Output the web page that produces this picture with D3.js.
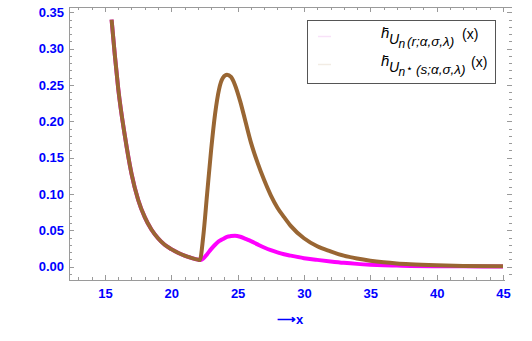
<!DOCTYPE html>
<html>
<head>
<meta charset="utf-8">
<script src="https://cdn.jsdelivr.net/npm/d3@7"></script>
<style>
	body { margin: 0; background: #fff; }
	svg { display: block; }
	.ticklab { font-family: "Liberation Sans", Arial, sans-serif; font-weight: bold; font-size: 13px; fill: #0000ff; }
	.leg { font-family: "Liberation Sans", Arial, sans-serif; fill: #000; }
</style>
</head>
<body>
<svg id="chart" width="532" height="341"></svg>
<script>
"use strict";

// values
var xs = [15.5, 15.75, 16, 16.5, 17, 17.5, 18, 18.5, 19, 19.5, 20, 20.5, 21, 21.5, 22, 22.15,
	22.4, 22.7, 23.0, 23.3, 23.6, 23.9, 24.2, 24.5, 24.8, 25.2, 25.6, 26.0, 26.5, 27, 27.5,
	28, 28.5, 29, 30, 31, 32, 33, 34, 35, 36, 37, 38, 40, 42, 45];

// h_Un(r;a,s,l)(x)  (brown)
var hUn = [0.340, 0.290, 0.245, 0.180, 0.128, 0.092, 0.068, 0.051, 0.039, 0.030, 0.024, 0.019, 0.015, 0.012, 0.0095, 0.009,
	0.040, 0.100, 0.160, 0.210, 0.244, 0.260, 0.264, 0.261, 0.250, 0.227, 0.199, 0.171, 0.143, 0.119, 0.098,
	0.081, 0.068, 0.056, 0.039, 0.028, 0.021, 0.015, 0.011, 0.008, 0.0058, 0.0042, 0.0031, 0.0017, 0.0009, 0.0005];

// h_Un*(s;a,s,l)(x)  (magenta)
var hUnStar = [0.340, 0.290, 0.245, 0.180, 0.128, 0.092, 0.068, 0.051, 0.039, 0.030, 0.024, 0.019, 0.015, 0.012, 0.0095, 0.009,
	0.011, 0.017, 0.024, 0.030, 0.035, 0.038, 0.041, 0.042, 0.0425, 0.041, 0.038, 0.035, 0.0305, 0.0262, 0.0225,
	0.0195, 0.017, 0.015, 0.0115, 0.0092, 0.0071, 0.0052, 0.0037, 0.0026, 0.0018, 0.0013, 0.0009, 0.0005, 0.0003, 0.0002];

var xMajor = [15, 20, 25, 30, 35, 40, 45];
var yMajor = [0, 0.05, 0.10, 0.15, 0.20, 0.25, 0.30, 0.35];
var xMinor = d3.range(13, 46);
var yMinor = d3.range(-1, 36).map(d=>d / 100);

var frameCol = "#9a9a9a";
var svg = d3.select("#chart");

var m = {left: 69, right: 512, top: 7, bottom: 280};
var xscale = d3.scaleLinear().domain([12.29, 45.68]).range([m.left, m.right]);
var yscale = d3.scaleLinear().domain([-0.0185, 0.3573]).range([m.bottom, m.top]);

// frame lines (right side has ticks only, as in the picture)
var frame = svg.append("g").attr("stroke", frameCol).attr("stroke-width", 1).attr("fill", "none");
frame.append("line").attr("x1", m.left + 0.5).attr("x2", m.left + 0.5).attr("y1", m.top).attr("y2", m.bottom + 0.5);
frame.append("line").attr("x1", m.left).attr("x2", 505).attr("y1", m.bottom + 0.5).attr("y2", m.bottom + 0.5);
frame.append("line").attr("x1", m.left).attr("x2", m.right).attr("y1", m.top + 0.5).attr("y2", m.top + 0.5);

function isMajor(v, step) {
	return Math.abs(v / step - Math.round(v / step)) < 1e-6;
}

// ticks on all four sides, pointing inward
xMinor.forEach(v=>{
	let len = isMajor(v, 5) ? 5 : 3;
	let px = Math.round(xscale(v)) + 0.5;
	frame.append("line").attr("x1", px).attr("x2", px).attr("y1", m.bottom).attr("y2", m.bottom - len);
	frame.append("line").attr("x1", px).attr("x2", px).attr("y1", m.top).attr("y2", m.top + len);
});
yMinor.forEach(v=>{
	let len = isMajor(v, 0.05) ? 5 : 3;
	let py = Math.round(yscale(v)) + 0.5;
	frame.append("line").attr("x1", m.left).attr("x2", m.left + len).attr("y1", py).attr("y2", py);
	frame.append("line").attr("x1", m.right).attr("x2", m.right - len).attr("y1", py).attr("y2", py);
});

// tick labels through d3 axes
var xaxis = d3.axisBottom(xscale).tickValues(xMajor).tickSize(0).tickPadding(9).tickFormat(d3.format("d"));
var yaxis = d3.axisLeft(yscale).tickValues(yMajor).tickSize(0).tickPadding(5).tickFormat(d3.format(".2f"));

var gx = svg.append("g").attr("transform", `translate(0,${m.bottom})`).call(xaxis);
var gy = svg.append("g").attr("transform", `translate(${m.left},0)`).call(yaxis);
[gx, gy].forEach(g=>{
	g.select(".domain").remove();
	g.attr("font-family", null).attr("font-size", null);
	g.selectAll("text").attr("class", "ticklab").attr("fill", null);
});

// axis label
svg.append("text")
	.attr("class", "ticklab")
	.attr("x", 290).attr("y", 324)
	.attr("text-anchor", "middle")
	.text("\u27F6x");

// curves
var line = d3.line()
	.x((d, i)=>xscale(xs[i]))
	.y(d=>yscale(d))
	.curve(d3.curveMonotoneX);

svg.append("path")
	.datum(hUnStar)
	.attr("fill", "none")
	.attr("stroke", "#ff00ff")
	.attr("stroke-width", 4)
	.attr("d", line);

svg.append("path")
	.datum(hUn)
	.attr("fill", "none")
	.attr("stroke", "#996633")
	.attr("stroke-width", 4)
	.attr("d", line);

// legend
var leg = svg.append("g");
leg.append("rect")
	.attr("x", 307.5).attr("y", 20.5).attr("width", 188).attr("height", 63)
	.attr("fill", "#fff").attr("stroke", "#555").attr("stroke-width", 1);

var legendRows = [
	{sw: "#f8e2f8", y: 38, star: false, args: "(r;\u03B1,\u03C3,\u03BB)", argX: 407, xX: 462},
	{sw: "#f2ece4", y: 66, star: true, args: "(s;\u03B1,\u03C3,\u03BB)", argX: 416, xX: 471}
];

legendRows.forEach(r=>{
	leg.append("line")
		.attr("x1", 318).attr("x2", 331).attr("y1", r.y - 1.5).attr("y2", r.y - 1.5)
		.attr("stroke", r.sw).attr("stroke-width", 1.5);
	let t = leg.append("text").attr("class", "leg");
	t.append("tspan").attr("x", 381).attr("y", r.y).style("font-size", "15px").style("font-style", "italic").text("h\u0304");
	t.append("tspan").attr("x", 389).attr("y", r.y + 6).style("font-size", "14px").style("font-style", "italic").text("U");
	t.append("tspan").attr("x", 398.5).attr("y", r.y + 9.5).style("font-size", "12px").style("font-style", "italic").text("n");
	if (r.star) {
		t.append("tspan").attr("x", 405.5).attr("y", r.y + 6).style("font-size", "11px").text("\u22C6");
	}
	t.append("tspan").attr("x", r.argX).attr("y", r.y + 8).style("font-size", "13.5px").style("font-style", "italic").text(r.args);
	t.append("tspan").attr("x", r.xX).attr("y", r.y + 1).style("font-size", "14px").text("(x)");
});
</script>
</body>
</html>
